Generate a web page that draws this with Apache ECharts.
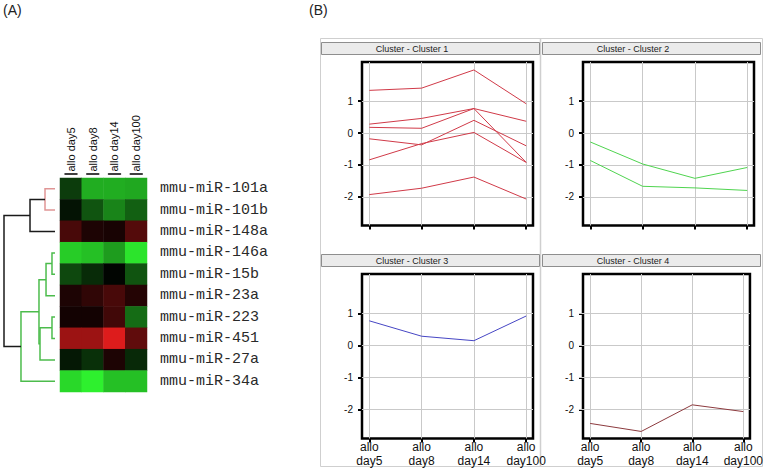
<!DOCTYPE html>
<html>
<head>
<meta charset="utf-8">
<script src="https://cdn.jsdelivr.net/npm/echarts@6/dist/echarts.min.js"></script>
<style>html,body{margin:0;padding:0;background:#fff}#c{width:766px;height:472px}</style>
</head>
<body>
<div id="c"></div>
<script>
// ---------- data ----------
const timepoints = ['allo day5', 'allo day8', 'allo day14', 'allo day100'];
const rowNames = ['mmu-miR-101a', 'mmu-miR-101b', 'mmu-miR-148a', 'mmu-miR-146a', 'mmu-miR-15b',
                  'mmu-miR-23a', 'mmu-miR-223', 'mmu-miR-451', 'mmu-miR-27a', 'mmu-miR-34a'];
// heatmap values per row (green negative, red positive)
const heatValues = [
  [-0.25, -0.72, -0.72, -0.70],
  [-0.08, -0.35, -0.55, -0.40],
  [ 0.30,  0.12,  0.10,  0.35],
  [-0.85, -0.80, -0.65, -0.95],
  [-0.30, -0.18, -0.02, -0.35],
  [ 0.12,  0.20,  0.30,  0.15],
  [ 0.08,  0.08,  0.27, -0.45],
  [ 0.65,  0.65,  0.92,  0.40],
  [-0.10, -0.20,  0.12, -0.17],
  [-0.90, -1.00, -0.80, -0.80]
];
// dendrogram merges: [childA, childB, height]; leaves 0..9, merged nodes 10..
const dendroMerges = [
  [0, 1, 0.196], [10, 2, 0.49], [3, 4, 0.059], [12, 5, 0.176], [6, 7, 0.059],
  [14, 8, 0.294], [13, 15, 0.314], [16, 9, 0.667], [11, 17, 1.0]
];
const yTicks = [-2, -1, 0, 1];
const xTicks = [0, 1, 2, 3];
const cluster1 = [
  [ 1.34,  1.41,  1.98,  0.92],
  [ 0.28,  0.46,  0.77,  0.37],
  [ 0.18,  0.15,  0.77, -0.92],
  [-0.18, -0.37,  0.40, -0.40],
  [-0.84, -0.33,  0.02, -0.92],
  [-1.93, -1.73, -1.38, -2.07]
];
const cluster2 = [
  [-0.28, -0.97, -1.42, -1.08],
  [-0.86, -1.67, -1.72, -1.80]
];
const cluster3 = [
  [0.77, 0.29, 0.15, 0.92]
];
const cluster4 = [
  [-2.43, -2.68, -1.85, -2.06]
];

// ---------- styles / layout ----------
const G = '#4cbc4c';
const linkColors = ['#e09595', '#1a1a1a', G, G, G, G, G, G, '#1a1a1a'];
const sans = 'Liberation Sans, Arial, sans-serif';

const grids = [], xAxes = [], yAxes = [], series = [], graphics = [];

// dendrogram grid (0)
grids.push({left: 4, top: 178, width: 51, height: 214, show: false});
xAxes.push({gridIndex: 0, type: 'value', min: 0, max: 1, inverse: true, show: false});
yAxes.push({gridIndex: 0, type: 'value', min: -0.5, max: 9.5, inverse: true, show: false});
const nodes = rowNames.map((n, i) => ({y: i, h: 0}));
const segs = [];
dendroMerges.forEach((m, k) => {
  const a = nodes[m[0]], b = nodes[m[1]], h = m[2];
  segs.push({
    coords: [[a.h, a.y], [h, a.y], [h, b.y], [b.h, b.y]],
    lineStyle: {color: linkColors[k], width: 1.5, opacity: 1}
  });
  nodes.push({y: (a.y + b.y) / 2, h: h});
});
series.push({
  type: 'lines', coordinateSystem: 'cartesian2d', xAxisIndex: 0, yAxisIndex: 0,
  polyline: true, silent: true, data: segs, lineStyle: {width: 1.5, opacity: 1}
});

// heatmap grid (1)
const HW = 87, colW = HW / timepoints.length, barLen = 12;
grids.push({left: 60, top: 178, width: HW, height: 214, show: false});
xAxes.push({
  gridIndex: 1, type: 'category', data: timepoints, position: 'top', offset: 4.5,
  axisLine: {show: true, onZero: false,
             lineStyle: {color: '#000', width: 1.5, type: [barLen, colW - barLen],
                         dashOffset: -(colW - barLen) / 2}},
  axisTick: {show: false}, splitLine: {show: false},
  axisLabel: {interval: 0, rotate: -90, margin: 2, fontSize: 11, color: '#111', fontFamily: sans}
});
yAxes.push({
  gridIndex: 1, type: 'category', data: rowNames, inverse: true, position: 'right',
  axisLine: {show: false}, axisTick: {show: false}, splitLine: {show: false},
  axisLabel: {interval: 0, margin: 13, fontSize: 15, color: '#2a2a2a',
              fontFamily: 'Liberation Mono, DejaVu Sans Mono, monospace'}
});
const heatData = [];
heatValues.forEach((row, r) => row.forEach((v, c) => heatData.push([c, r, v])));
series.push({
  type: 'heatmap', xAxisIndex: 1, yAxisIndex: 1, data: heatData, silent: true,
  itemStyle: {borderWidth: 0}
});

// cluster panels
const panels = [
  {data: cluster1, color: '#d03a48', left: 362, top: 62, height: 163.5, labels: false, title: 'Cluster - Cluster 1', hx: 321, hy: 42},
  {data: cluster2, color: '#4fd44f', left: 583, top: 62, height: 163.5, labels: false, title: 'Cluster - Cluster 2', hx: 542, hy: 42},
  {data: cluster3, color: '#4646c4', left: 362, top: 274, height: 164.5, labels: true, title: 'Cluster - Cluster 3', hx: 321, hy: 254},
  {data: cluster4, color: '#8c3a3e', left: 583, top: 274, height: 164.5, labels: true, title: 'Cluster - Cluster 4', hx: 542, hy: 254}
];
const PW = 171;
panels.forEach((p, i) => {
  const gi = 2 + i;
  grids.push({left: p.left, top: p.top, width: PW, height: p.height, show: true,
              borderColor: '#000', borderWidth: 2.5, backgroundColor: '#fff'});
  const xMain = xAxes.length, yMain = yAxes.length;
  xAxes.push({
    gridIndex: gi, type: 'value', min: -0.14, max: 3.13, position: 'bottom',
    axisLine: {show: false, onZero: false}, splitLine: {show: false},
    axisTick: {show: true, customValues: xTicks, length: 4, lineStyle: {color: '#000', width: 2}},
    axisLabel: {show: p.labels, customValues: xTicks, margin: 2,
                formatter: v => timepoints[Math.round(v)].replace(' ', '\n'),
                fontSize: 12, lineHeight: 13.5, color: '#111', fontFamily: sans}
  });
  xAxes.push({
    gridIndex: gi, type: 'value', min: -0.14, max: 3.13, position: 'top',
    axisLine: {show: false, onZero: false}, splitLine: {show: false}, axisLabel: {show: false},
    axisTick: {show: true, inside: true, customValues: xTicks, length: p.height,
               lineStyle: {color: '#c9c9c9', width: 1}}
  });
  yAxes.push({
    gridIndex: gi, type: 'value', min: -2.9, max: 2.23, position: 'left',
    axisLine: {show: false, onZero: false}, splitLine: {show: false},
    axisTick: {show: true, customValues: yTicks, length: 4, lineStyle: {color: '#000', width: 2}},
    axisLabel: {customValues: yTicks, margin: 9, fontSize: 10, color: '#111', fontFamily: sans,
                formatter: v => String(v)}
  });
  yAxes.push({
    gridIndex: gi, type: 'value', min: -2.9, max: 2.23, position: 'right',
    axisLine: {show: false, onZero: false}, splitLine: {show: false}, axisLabel: {show: false},
    axisTick: {show: true, inside: true, customValues: yTicks, length: PW,
               lineStyle: {color: '#c9c9c9', width: 1}}
  });
  p.data.forEach(vals => {
    series.push({
      type: 'line', xAxisIndex: xMain, yAxisIndex: yMain, silent: true,
      symbol: 'none', data: vals.map((v, k) => [k, v]),
      lineStyle: {width: 1, color: p.color}, itemStyle: {color: p.color}
    });
  });
  graphics.push({type: 'rect', shape: {x: p.hx + 0.5, y: p.hy + 0.5, width: 218, height: 12},
                 style: {fill: '#ebebeb', stroke: '#8e8e8e', lineWidth: 1}, z: 10});
  graphics.push({type: 'text', x: p.hx + 91, y: p.hy + 7,
                 style: {text: p.title, align: 'center', verticalAlign: 'middle',
                         font: '9px ' + sans, fill: '#222'}, z: 11});
});

// panel B frame
graphics.unshift(
  {type: 'rect', shape: {x: 320.5, y: 38.5, width: 442, height: 428},
   style: {fill: 'none', stroke: '#cfcfcf', lineWidth: 1}, z: -1},
  {type: 'line', shape: {x1: 540.5, y1: 38.5, x2: 540.5, y2: 466.5},
   style: {stroke: '#cfcfcf', lineWidth: 1.5}, z: -1}
);
graphics.push(
  {type: 'text', x: 3, y: 3, style: {text: '(A)', font: '14px ' + sans, fill: '#222'}},
  {type: 'text', x: 309, y: 3, style: {text: '(B)', font: '14px ' + sans, fill: '#222'}}
);

const chart = echarts.init(document.getElementById('c'), null, {renderer: 'svg'});
chart.setOption({
  animation: false,
  backgroundColor: '#fff',
  grid: grids,
  xAxis: xAxes,
  yAxis: yAxes,
  visualMap: {
    show: false, type: 'continuous', seriesIndex: 1, dimension: 2, min: -1, max: 1,
    inRange: {color: ['#2ef02e', '#000000', '#f01e1e']}
  },
  series: series,
  graphic: graphics
});
</script>
</body>
</html>
